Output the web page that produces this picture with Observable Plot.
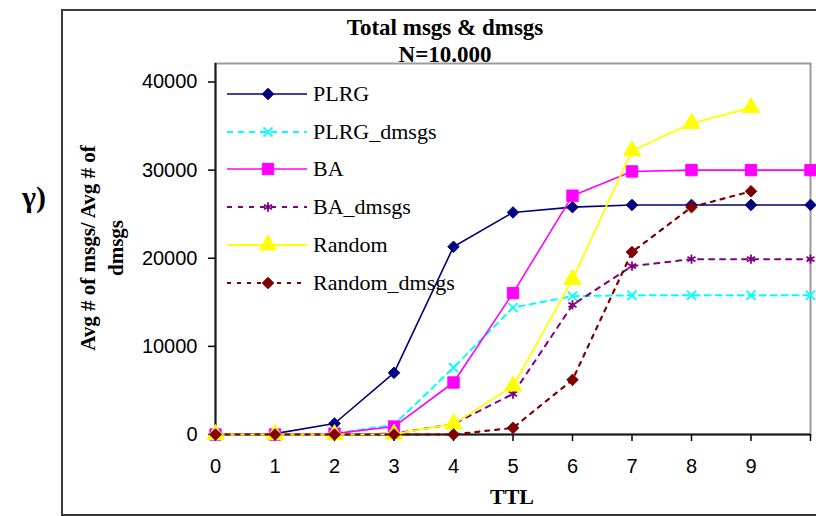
<!DOCTYPE html>
<html>
<head>
<meta charset="utf-8">
<script src="https://cdn.jsdelivr.net/npm/d3@7"></script>
<script src="https://cdn.jsdelivr.net/npm/@observablehq/plot@0.6"></script>
<style>
  html, body { margin: 0; padding: 0; background: #fff; }
  #wrap { position: relative; width: 816px; height: 516px; overflow: hidden; background: #fff; }
  .serif { font-family: "Liberation Serif", "Times New Roman", Tinos, "DejaVu Serif", "Noto Serif", serif; }
  #frame { position: absolute; left: 61px; top: 9px; width: 800px; height: 503px; border: 2px solid #3a3a3a; }
  #gamma { position: absolute; left: 22px; top: 180px; font-weight: bold; font-size: 30px; color: #000; }
  #title { position: absolute; left: 245px; width: 400px; top: 14px; text-align: center;
           font-weight: bold; font-size: 23px; line-height: 27px; color: #000; }
  #ytitle { position: absolute; left: -48px; top: 220px; width: 300px; height: 56px; text-align: center;
            font-weight: bold; font-size: 21px; line-height: 28px; transform: rotate(-90deg); color: #000; }
  #xtitle { position: absolute; left: 412px; width: 200px; top: 485px; text-align: center;
            font-weight: bold; font-size: 22px; line-height: 24px; color: #000; }
  #chart { position: absolute; left: 0; top: 0; }
  #legend { position: absolute; left: 226px; top: 75px; }
  .lrow { display: flex; align-items: center; height: 37.8px; font-size: 22px; color: #000; }
  .lrow svg { margin-right: 6px; overflow: visible; }
</style>
</head>
<body>
<div id="wrap">
  <div id="frame"></div>
  <div id="gamma" class="serif">γ)</div>
  <div id="title" class="serif">Total msgs &amp; dmsgs<br>N=10.000</div>
  <div id="ytitle" class="serif">Avg # of msgs/ Avg # of<br>dmsgs</div>
  <div id="chart"></div>
  <div id="xtitle" class="serif">TTL</div>
  <div id="legend" class="serif"></div>
</div>
<script>
// ---- data ----
const ttl = [0, 1, 2, 3, 4, 5, 6, 7, 8, 9, 10];
const xTickLabels = ["0", "1", "2", "3", "4", "5", "6", "7", "8", "9", ""];
const yTicks = [0, 10000, 20000, 30000, 40000];
const seriesNames = ["PLRG", "PLRG_dmsgs", "BA", "BA_dmsgs", "Random", "Random_dmsgs"];
const plrg       = [0, 100, 1250, 7000, 21300, 25200, 25800, 26050, 26050, 26050, 26050];
const plrgDmsgs  = [0, 0, 100, 1100, 7600, 14400, 15700, 15800, 15800, 15800, 15800];
const ba         = [0, 0, 100, 900, 5900, 16050, 27100, 29850, 30000, 30000, 30000];
const baDmsgs    = [0, 0, 0, 100, 1200, 4600, 14700, 19100, 19900, 19900, 19900];
const random     = [0, 0, 0, 50, 1200, 5500, 17600, 32200, 35300, 37100];
const randomDmsgs= [0, 0, 0, 0, 0, 750, 6200, 20700, 25800, 27600];

const seriesValues = [plrg, plrgDmsgs, ba, baDmsgs, random, randomDmsgs];

// ---- styles ----
const styles = [
  {color: "#000080", dash: null,  width: 1.6, symbol: "diamond2", r: 5.2, filled: true},
  {color: "#00FFFF", dash: "6,5", width: 2,   symbol: "times",    r: 4.2, filled: false},
  {color: "#FF00FF", dash: null,  width: 1.6, symbol: "square",   r: 6.4, filled: true},
  {color: "#800080", dash: "5,6", width: 2,   symbol: "asterisk", r: 4.4, filled: false},
  {color: "#FFFF00", dash: null,  width: 1.8, symbol: "triangle", r: 6.4, filled: true},
  {color: "#800000", dash: "4,6", width: 2.2, symbol: "diamond2", r: 5.2, filled: true}
];

const rows = seriesNames.flatMap((name, i) =>
  seriesValues[i].map((v, j) => ({series: name, ttl: ttl[j], value: v})));

const marks = [
  Plot.frame({stroke: "#9a9a9a", strokeWidth: 2}),
  Plot.axisY({ticks: yTicks, tickSize: 7, tickPadding: 11, strokeWidth: 1.5,
               tickFormat: d3.format("d"), label: null}),
  Plot.axisX({ticks: ttl, tickSize: 7, tickPadding: 17, strokeWidth: 1.5,
               tickFormat: (d) => xTickLabels[ttl.indexOf(d)], label: null}),
  Plot.ruleX([0], {stroke: "#1a1a1a", strokeWidth: 2}),
  Plot.ruleY([0], {stroke: "#1a1a1a", strokeWidth: 2})
];

seriesNames.forEach((name, i) => {
  const s = styles[i];
  const data = rows.filter((d) => d.series === name);
  marks.push(Plot.line(data, {x: "ttl", y: "value", stroke: s.color, strokeWidth: s.width,
                              strokeDasharray: s.dash || undefined}));
  marks.push(Plot.dot(data, {x: "ttl", y: "value", symbol: s.symbol, r: s.r,
                             fill: s.filled ? s.color : "none", stroke: s.color,
                             strokeWidth: s.filled ? 1 : 1.8}));
});

const chart = Plot.plot({
  width: 816,
  height: 516,
  marginLeft: 215,
  marginRight: 6,
  marginTop: 63,
  marginBottom: 82,
  x: {domain: [0, 10]},
  y: {domain: [0, 42100]},
  style: {fontFamily: "'Liberation Sans', Arial, sans-serif", fontSize: "20px", color: "#000",
          background: "transparent", overflow: "visible"},
  marks
});
document.getElementById("chart").appendChild(chart);

// ---- legend ----
const legend = d3.select("#legend");
const symbolTypes = {diamond2: d3.symbolDiamond2, times: d3.symbolTimes, square: d3.symbolSquare,
                     asterisk: d3.symbolAsterisk, triangle: d3.symbolTriangle};
seriesNames.forEach((name, i) => {
  const s = styles[i];
  const row = legend.append("div").attr("class", "lrow");
  const svg = row.append("svg").attr("width", 81).attr("height", 20);
  svg.append("line").attr("x1", 1).attr("x2", 81).attr("y1", 10).attr("y2", 10)
     .attr("stroke", s.color).attr("stroke-width", s.width)
     .attr("stroke-dasharray", s.dash);
  svg.append("path")
     .attr("transform", "translate(42,10)")
     .attr("d", d3.symbol(symbolTypes[s.symbol], Math.PI * s.r * s.r)())
     .attr("fill", s.filled ? s.color : "none").attr("stroke", s.color)
     .attr("stroke-width", s.filled ? 1 : 1.8);
  row.append("span").text(name);
});
</script>
</body>
</html>
